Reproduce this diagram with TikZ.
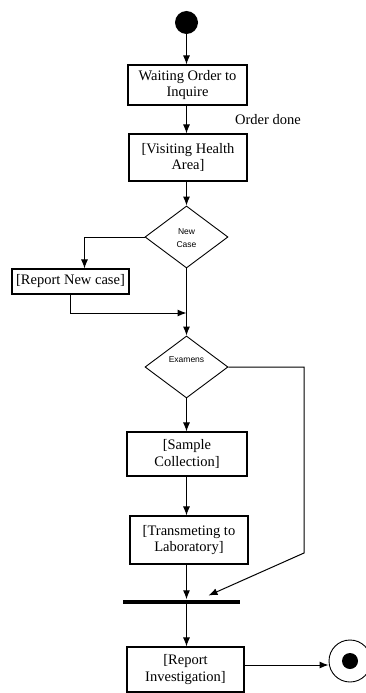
\documentclass[tikz,border=0pt]{standalone}
\usepackage{fontspec}
\setmainfont{Liberation Serif}
\newfontfamily\diasans{Liberation Sans}
\usetikzlibrary{shapes.geometric,arrows.meta}
\begin{document}
\begin{tikzpicture}[x=1pt,y=-1pt,
  box/.style={draw,line width=1.1pt,inner sep=0pt,align=center,
    font=\fontsize{14.5}{16.5}\selectfont},
  dec/.style={draw,diamond,line width=0.9pt,inner sep=0pt,
    minimum width=83pt,minimum height=62pt},
  dectext/.style={inner sep=0pt,align=center,font=\diasans\fontsize{8.5}{12.6}\selectfont},
  lbl/.style={inner sep=0pt,font=\fontsize{14.5}{16.5}\selectfont},
  flow/.style={line width=1pt,-{Latex[length=9pt,width=7pt]}},
  plainline/.style={line width=1pt}]
\useasboundingbox (0,0) rectangle (366,693);

% nodes
\node[circle,fill=black,inner sep=0pt,minimum size=23pt] (start) at (186.5,22.5) {};
\node[box,minimum width=119pt,minimum height=40pt] (b1) at (187.5,85) {Waiting Order to\\Inquire};
\node[lbl] (od) at (268,120) {Order done};
\node[box,minimum width=118pt,minimum height=47pt] (b2) at (188,157.5) {[Visiting Health\\Area]};
\node[dec] (d1) at (186.5,237) {};
\node[dectext] (d1t) at (186.5,238) {New\\Case};
\node[box,minimum width=117pt,minimum height=25pt] (rnc) at (70.5,281.5) {[Report New case]};
\node[dec] (d2) at (186.5,367) {};
\node[dectext] (d2t) at (186.5,359.5) {Examens};
\node[box,minimum width=120pt,minimum height=44pt] (sc) at (187,454) {[Sample\\Collection]};
\node[box,minimum width=118pt,minimum height=48pt] (tl) at (189,540) {[Transmeting to\\Laboratory]};
\node[rectangle,fill=black,inner sep=0pt,minimum width=117pt,minimum height=4pt] (bar) at (181.5,601.5) {};
\node[box,minimum width=117pt,minimum height=45pt] (ri) at (185.5,669.5) {[Report\\Investigation]};
\node[circle,draw,line width=0.9pt,inner sep=0pt,minimum size=42pt] (endc) at (350,661) {};
\node[circle,fill=black,inner sep=0pt,minimum size=16pt] (endin) at (350,661) {};

% helper coordinates
\coordinate (c1) at (84.5,0);
\coordinate (m) at (186.5,313);
\coordinate (c2) at (304,553);
\coordinate (c3) at (208.5,595.5);

% connectors
\draw[flow] (start) -- (b1.north -| start);
\draw[flow] (b1.south -| start) -- (b2.north -| start);
\draw[flow] (b2.south -| start) -- (d1.north);
\draw[flow] (d1.west) -| (rnc.north -| c1);
\draw[flow] (rnc.south) |- (m);
\draw[flow] (d1.south) -- (d2.north);
\draw[flow] (d2.south) -- (sc.north -| d2.south);
\draw[flow] (sc.south -| start) -- (tl.north -| start);
\draw[flow] (tl.south -| start) -- (bar.north -| start);
\draw[flow] (d2.east) -| (c2) -- (c3);
\draw[flow] (bar.south -| start) -- (ri.north -| start);
\draw[flow] ([yshift=4.5pt]ri.east) -- ([yshift=4.5pt]ri.east -| endc.west);
\end{tikzpicture}
\end{document}
